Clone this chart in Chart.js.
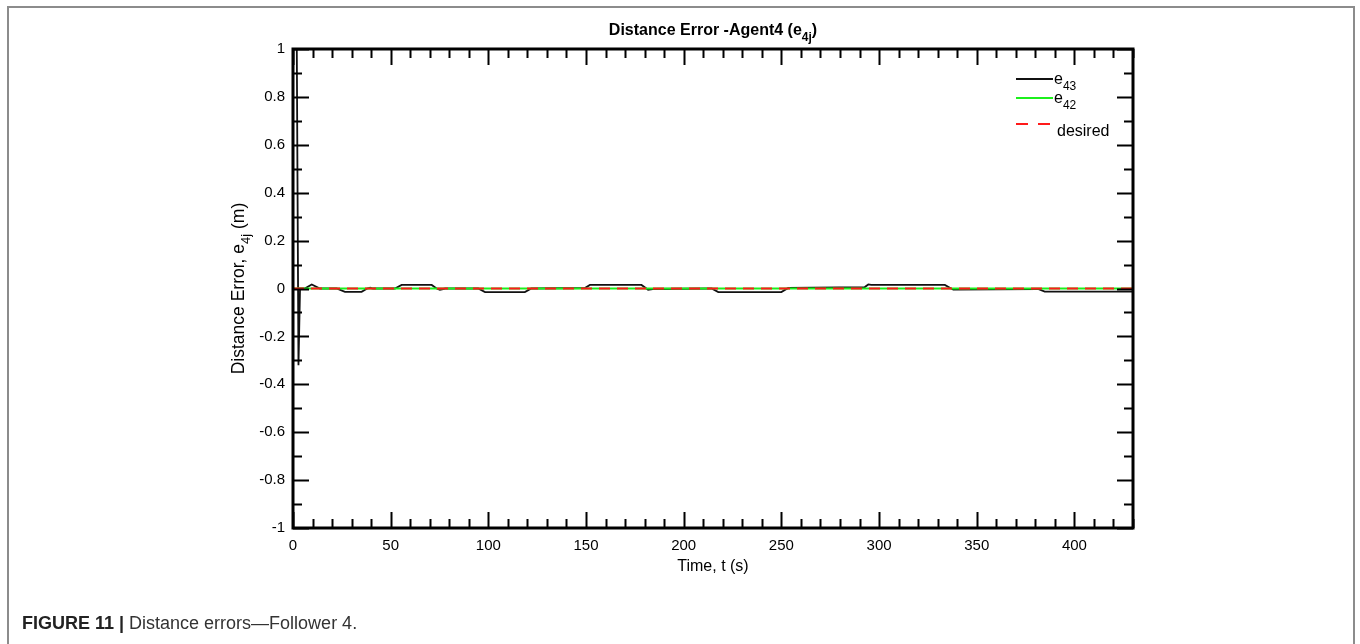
<!DOCTYPE html>
<html>
<head>
<meta charset="utf-8">
<script src="https://cdn.jsdelivr.net/npm/chart.js@4/dist/chart.umd.min.js"></script>
<style>
  html, body { margin: 0; padding: 0; background: #fff; }
  #wrap { width: 1360px; height: 644px; }
</style>
</head>
<body>
<div id="wrap"><canvas id="errChart" width="1360" height="644"></canvas></div>
<script>
// time (s) and distance error e43 (m)
const timeE43 = [0, 2.8, 3.6, 6, 9.6, 13.8, 22.3, 26.6, 35.1, 38, 39.5, 41, 52.2, 55.6, 71, 73.5, 75.2, 78,
  94.8, 98.3, 118.7, 122, 149.4, 152, 178.4, 181.8, 185, 214.3, 217.7, 250, 253.5, 292.7, 294.5, 296,
  333.7, 338, 381.4, 384.8, 430];
const valuesE43 = [4.0, -0.32, 0, 0, 0.017, 0, 0, -0.014, -0.014, 0, 0.003, 0, 0, 0.015, 0.015, 0, -0.005, 0,
  0, -0.015, -0.015, 0, 0.002, 0.015, 0.015, -0.005, -0.002, 0, -0.015, -0.015, 0.002, 0.006, 0.017, 0.015,
  0.015, -0.005, -0.002, -0.013, -0.013];

// distance error e42 (m)
const timeE42 = [0, 430];
const valuesE42 = [0, 0];

// desired error
const timeDesired = [0, 430];
const valuesDesired = [0, 0];

const xTicks = [0, 50, 100, 150, 200, 250, 300, 350, 400];
const yTicks = [-1, -0.8, -0.6, -0.4, -0.2, 0, 0.2, 0.4, 0.6, 0.8, 1];

const FONT = "'Liberation Sans', Arial, sans-serif";

const toPoints = (xs, ys) => xs.map((x, i) => ({ x: x, y: ys[i] }));

// draw text made of normal/subscript pieces
function drawParts(ctx, parts, x, y, size, weight, align) {
  const subSize = Math.round(size * 0.75);
  let total = 0;
  parts.forEach(p => {
    ctx.font = weight + ' ' + (p[1] ? subSize : size) + 'px ' + FONT;
    total += ctx.measureText(p[0]).width;
  });
  let cx = align === 'center' ? x - total / 2 : x;
  ctx.textAlign = 'left';
  ctx.textBaseline = 'alphabetic';
  parts.forEach(p => {
    ctx.font = weight + ' ' + (p[1] ? subSize : size) + 'px ' + FONT;
    ctx.fillText(p[0], cx, p[1] ? y + size * 0.35 : y);
    cx += ctx.measureText(p[0]).width;
  });
}

const framePlugin = {
  id: 'frame',
  beforeDraw(chart) {
    const ctx = chart.ctx;
    ctx.save();
    // figure panel outline
    ctx.strokeStyle = '#8c8c8c';
    ctx.lineWidth = 2;
    ctx.beginPath();
    ctx.moveTo(8, 644);
    ctx.lineTo(8, 7);
    ctx.lineTo(1354, 7);
    ctx.lineTo(1354, 644);
    ctx.stroke();

    // caption
    ctx.textBaseline = 'alphabetic';
    ctx.textAlign = 'left';
    ctx.font = 'bold 18px ' + FONT;
    ctx.fillStyle = '#222';
    const head = 'FIGURE 11 | ';
    ctx.fillText(head, 22, 629);
    const w = ctx.measureText(head).width;
    ctx.font = '18px ' + FONT;
    ctx.fillStyle = '#333';
    ctx.fillText('Distance errors\u2014Follower 4.', 22 + w, 629);
    ctx.restore();
  },
  afterDatasetsDraw(chart) {
    const ctx = chart.ctx;
    const a = chart.chartArea;
    const xs = chart.scales.x;
    const ys = chart.scales.y;
    ctx.save();
    ctx.fillStyle = '#000';
    ctx.strokeStyle = '#000';

    // inward ticks on all four sides
    ctx.lineWidth = 2;
    ctx.beginPath();
    for (let v = xs.min; v <= xs.max + 1e-9; v += 10) {
      const px = Math.round(xs.getPixelForValue(v)) + 0.5;
      const len = v % 50 === 0 ? 16 : 9;
      ctx.moveTo(px, a.bottom); ctx.lineTo(px, a.bottom - len);
      ctx.moveTo(px, a.top); ctx.lineTo(px, a.top + len);
    }
    for (let i = 0; i <= 20; i++) {
      const v = -1 + i * 0.1;
      const py = Math.round(ys.getPixelForValue(v)) + 0.5;
      const len = i % 2 === 0 ? 16 : 9;
      ctx.moveTo(a.left, py); ctx.lineTo(a.left + len, py);
      ctx.moveTo(a.right, py); ctx.lineTo(a.right - len, py);
    }
    ctx.stroke();

    // box
    ctx.lineWidth = 3;
    ctx.strokeRect(a.left, a.top, a.right - a.left, a.bottom - a.top);

    // title
    const cx = (a.left + a.right) / 2;
    drawParts(ctx, [['Distance Error -Agent4 (e', 0], ['4j', 1], [')', 0]], cx, 35, 16, 'bold', 'center');

    // axis titles
    drawParts(ctx, [['Time, t (s)', 0]], cx, 571, 16, 'normal', 'center');
    ctx.save();
    ctx.translate(244, (a.top + a.bottom) / 2);
    ctx.rotate(-Math.PI / 2);
    drawParts(ctx, [['Distance Error, e', 0], ['4j', 1], [' (m)', 0]], 0, 0, 17.5, 'normal', 'center');
    ctx.restore();

    // legend
    const lx = 1016;
    const rows = [
      { ds: chart.data.datasets[2], y: 79, base: 84, len: 37, dash: [], parts: [['e', 0], ['43', 1]] },
      { ds: chart.data.datasets[1], y: 98, base: 103, len: 37, dash: [], parts: [['e', 0], ['42', 1]] },
      { ds: chart.data.datasets[0], y: 124, base: 136, len: 34, dash: [12, 10], parts: [['desired', 0]] }
    ];
    rows.forEach(r => {
      ctx.strokeStyle = r.ds.borderColor;
      ctx.lineWidth = r.ds.borderWidth;
      ctx.setLineDash(r.dash);
      ctx.beginPath();
      ctx.moveTo(lx, r.y); ctx.lineTo(lx + r.len, r.y);
      ctx.stroke();
      ctx.setLineDash([]);
      const tx = r.dash.length ? 1057 : lx + r.len + 1;
      drawParts(ctx, r.parts, tx, r.base, 16, 'normal', 'left');
    });
    ctx.restore();
  }
};

new Chart(document.getElementById('errChart'), {
  type: 'line',
  data: {
    datasets: [
      {
        label: 'desired',
        data: toPoints(timeDesired, valuesDesired),
        borderColor: '#ff1a1a',
        borderWidth: 2,
        borderDash: [11, 7],
        order: 0
      },
      {
        label: 'e42',
        data: toPoints(timeE42, valuesE42),
        borderColor: '#1cf01c',
        borderWidth: 2,
        order: 1
      },
      {
        label: 'e43',
        data: toPoints(timeE43, valuesE43),
        borderColor: '#111',
        borderWidth: 1.8,
        order: 2
      }
    ]
  },
  options: {
    responsive: false,
    animation: false,
    events: [],
    elements: { point: { radius: 0 }, line: { tension: 0 } },
    layout: { padding: { left: 200, top: 49, right: 227, bottom: 80 } },
    plugins: { legend: { display: false }, title: { display: false }, tooltip: { enabled: false } },
    scales: {
      x: {
        type: 'linear',
        min: 0,
        max: 430,
        afterBuildTicks: s => { s.ticks = xTicks.map(v => ({ value: v })); },
        afterFit: s => { s.height = 36; },
        grid: { display: false, drawTicks: false },
        border: { display: false },
        ticks: { padding: 9, color: '#000', font: { family: FONT, size: 15 } }
      },
      y: {
        type: 'linear',
        min: -1,
        max: 1,
        afterBuildTicks: s => { s.ticks = yTicks.map(v => ({ value: v })); },
        afterFit: s => { s.width = 93; },
        grid: { display: false, drawTicks: false },
        border: { display: false },
        ticks: {
          padding: 8,
          color: '#000',
          font: { family: FONT, size: 15 },
          callback: v => String(v)
        }
      }
    }
  },
  plugins: [framePlugin]
});
</script>
</body>
</html>
